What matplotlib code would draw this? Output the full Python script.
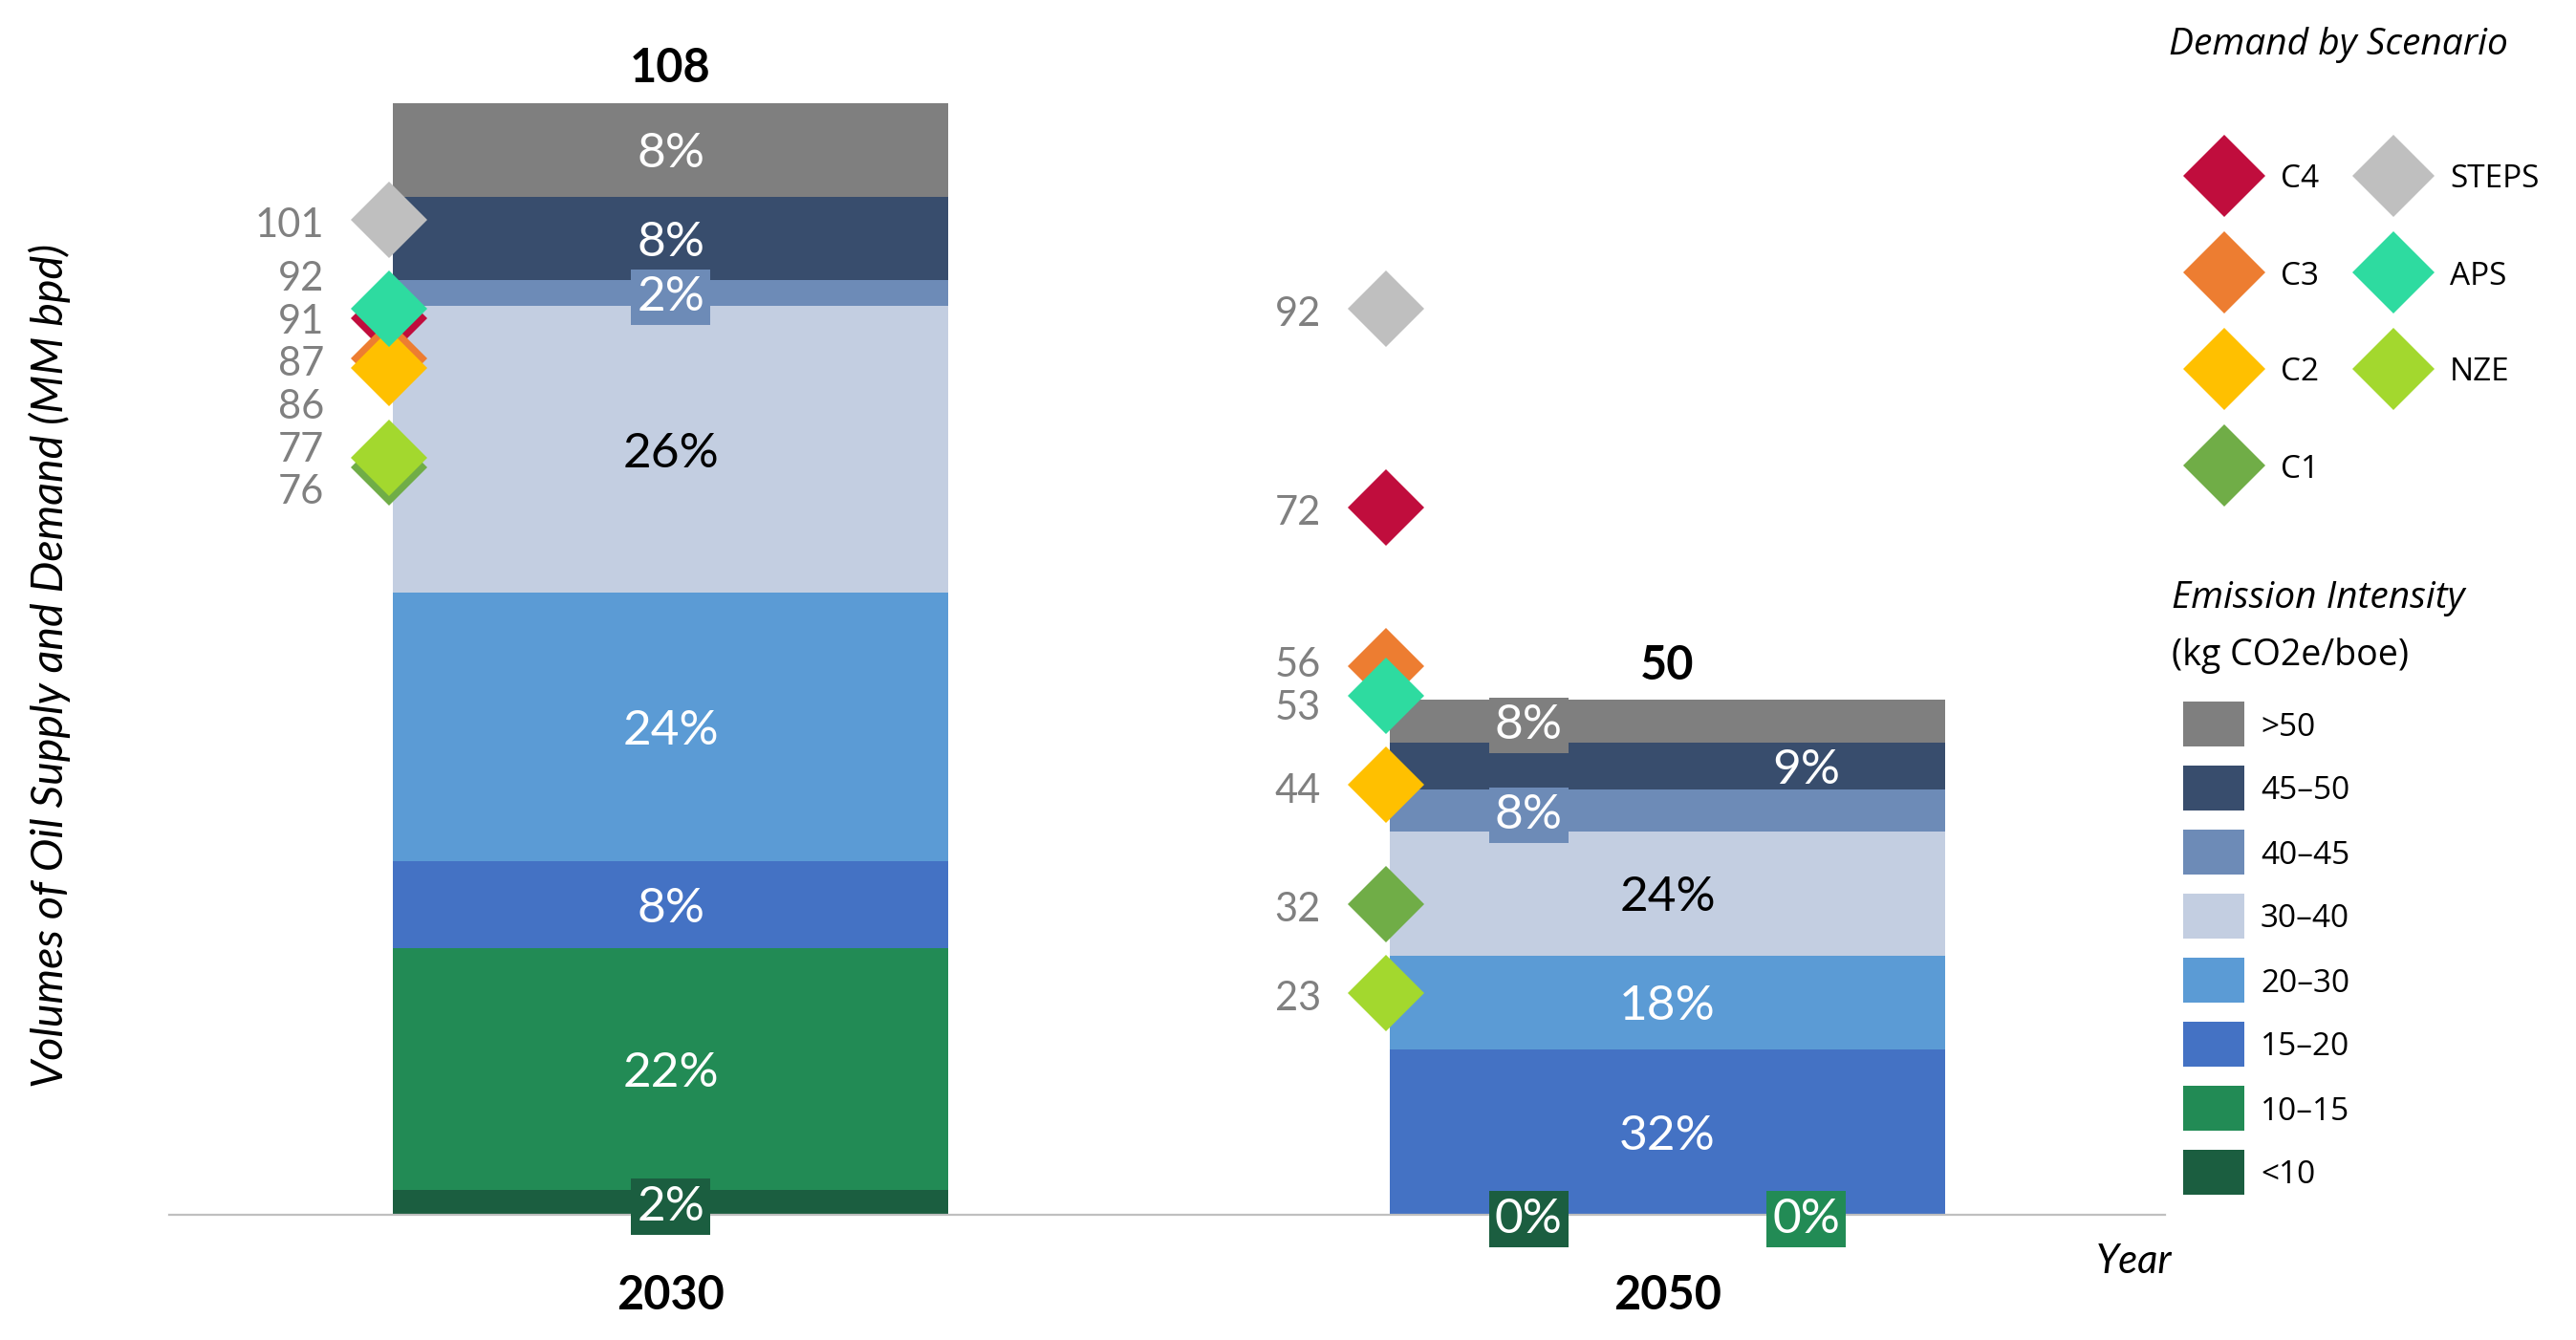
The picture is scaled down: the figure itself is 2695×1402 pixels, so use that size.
import matplotlib
matplotlib.use("Agg")
import matplotlib.pyplot as plt
from matplotlib.patches import Rectangle
import numpy as np

# emission intensity bins (kg CO2e/boe), listed top of stack first
bins = ['>50', '45–50', '40–45', '30–40', '20–30', '15–20', '10–15', '<10']
bin_colors = ['#7f7f7f', '#384d6d', '#6d8bb7', '#c3cee1', '#5b9bd5', '#4472c4', '#228b55', '#1b5e40']

years = ['2030', '2050']
supply_2030 = [9.1, 8.1, 2.5, 27.9, 26.0, 8.5, 23.5, 2.4]   # MM bpd
supply_2050 = [4.1, 4.6, 4.1, 12.0, 9.1, 16.1, 0.0, 0.0]

# demand by scenario (MM bpd)
scenarios = ['C4', 'C3', 'C2', 'C1', 'STEPS', 'APS', 'NZE']
scen_colors = ['#c00d3d', '#ed7d31', '#ffc000', '#70ad47', '#bfbfbf', '#2edba0', '#a3d82e']
demand_2030 = [91, 87, 86, 76, 101, 92, 77]
demand_2050 = [72, 56, 44, 32, 92, 53, 23]

W, H = 2695, 1402
LAB = 'Lato'
LEG = 'Open Sans'

fig = plt.figure(figsize=(W / 100, H / 100), dpi=100)
ax = fig.add_axes([177 / W, (H - 1271) / H, (2265 - 177) / W, (1271 - 60) / H])
ax.set_xlim(-0.503, 1.499)
ax.set_ylim(0, 1211 / 10.77)
for s in ['top', 'right', 'left']:
    ax.spines[s].set_visible(False)
ax.spines['bottom'].set_color('#bfbfbf')
ax.spines['bottom'].set_linewidth(1.6)
ax.set_yticks([])
ax.set_xticks([0, 1])
ax.set_xticklabels(years, fontsize=35, fontweight='bold', family=LAB)
ax.tick_params(axis='x', length=0, pad=45)

bar_w = 0.557
# where the % label sits across the bar (fraction of width), per bin
label_xfrac = [[0.5] * 8,
               [0.25, 0.75, 0.25, 0.5, 0.5, 0.5, 0.75, 0.25]]

for i, vals in enumerate([supply_2030, supply_2050]):
    total = sum(vals)
    bottom = 0.0
    for j in reversed(range(len(bins))):
        v = vals[j]
        ax.bar(i, v, bar_w, bottom=bottom, color=bin_colors[j], linewidth=0)
        pct = '%d%%' % round(100 * v / total)
        xl = i - bar_w / 2 + bar_w * label_xfrac[i][j]
        col = 'black' if bins[j] == '30–40' else 'white'
        box = None
        if v < 4.4:
            box = dict(boxstyle='square,pad=0.12', fc=bin_colors[j], ec='none')
        ax.text(xl, bottom + v / 2, pct, ha='center', va='center_baseline',
                fontsize=37, color=col, family=LAB, bbox=box, zorder=5)
        bottom += v
    ax.annotate('%d' % round(total), xy=(i, total), xytext=(0, 29),
                textcoords='offset points', ha='center', va='center_baseline',
                fontsize=35, fontweight='bold', family=LAB)

# scenario demand diamonds on their own scale
ax2 = ax.twinx()
ax2.set_ylim(0.67, 117.34)
ax2.axis('off')


def spread(vals, gap):
    order = np.argsort(vals)[::-1]
    pos = np.array(vals, float)[order]
    for _ in range(300):
        for k in range(len(pos) - 1):
            d = pos[k] - pos[k + 1]
            if d < gap:
                pos[k] += (gap - d) / 2
                pos[k + 1] -= (gap - d) / 2
    out = np.empty_like(pos)
    out[order] = pos
    return out


for i, dem in enumerate([demand_2030, demand_2050]):
    x = i - bar_w / 2 - 0.004
    for v, c in zip(dem, scen_colors):
        ax2.plot([x], [v], 'D', ms=40.7, color=c, mew=0)
    lab_y = spread(dem, 4.3)
    for v, ly in zip(dem, lab_y):
        ax2.annotate(str(v), xy=(x, ly), xytext=(-49, -2), textcoords='offset points',
                     ha='right', va='center_baseline', fontsize=30, color='#808080', family=LAB)

ax.annotate('Year', xy=(1, 0), xycoords='axes fraction', xytext=(5, -35),
            textcoords='offset points', ha='right', va='center',
            fontsize=30, fontstyle='italic', family=LAB)

fig.text(52 / W, 1 - 696 / H, 'Volumes of Oil Supply and Demand (MM bpd)',
         rotation=90, ha='center', va='center', fontsize=33.5, fontstyle='italic', family=LAB)

# legends, laid out in pixel space on an overlay axes
lax = fig.add_axes([0, 0, 1, 1])
lax.set_xlim(0, W)
lax.set_ylim(H, 0)
lax.axis('off')

lax.text(2269, 47, 'Demand by Scenario', ha='left', va='center', fontsize=28,
         fontstyle='italic', family=LEG)
for k, (name, c) in enumerate(zip(scenarios, scen_colors)):
    col, row = (0, k) if k < 4 else (1, k - 4)
    dx = [2327, 2504][col]
    dy = 184 + row * 101
    lax.plot([dx], [dy], 'D', ms=44, color=c, mew=0)
    lax.text(dx + 59, dy, name, ha='left', va='center_baseline', fontsize=24, family=LEG)

lax.text(2272, 626, 'Emission Intensity', ha='left', va='center', fontsize=28,
         fontstyle='italic', family=LEG)
lax.text(2272, 686, '(kg CO2e/boe)', ha='left', va='center', fontsize=27, family=LEG)
for k, (name, c) in enumerate(zip(bins, bin_colors)):
    cy = 757 + k * 67
    lax.add_patch(Rectangle((2284, cy - 23.5), 64, 47, color=c, lw=0))
    lax.text(2365, cy, name, ha='left', va='center_baseline', fontsize=24, family=LEG)

fig.savefig('out.png', dpi=100)
